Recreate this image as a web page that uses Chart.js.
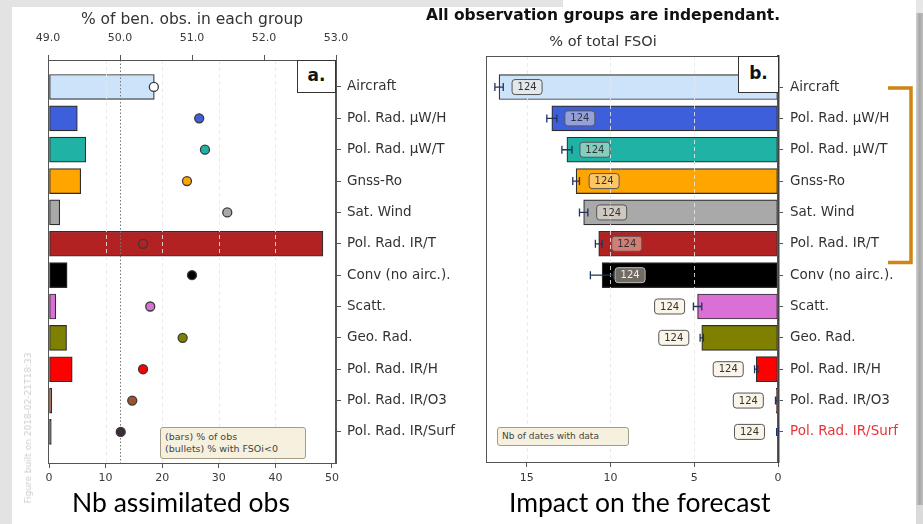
<!DOCTYPE html>
<html>
<head>
<meta charset="utf-8">
<script src="https://cdn.jsdelivr.net/npm/chart.js@4.4.1/dist/chart.umd.min.js"></script>
<style>
  html, body { margin: 0; padding: 0; background: #fff; }
  #page { position: relative; width: 923px; height: 524px; overflow: hidden; background: #fff;
          font-family: "DejaVu Sans", sans-serif; }
  .abs { position: absolute; }
  canvas { position: absolute; top: 0; }
  .title-bold { font-weight: bold; font-size: 15.5px; color: #111; text-align: center; line-height: 18px; white-space: nowrap; }
  .title-sub { font-size: 14.5px; color: #333; text-align: center; line-height: 17px; white-space: nowrap; }
  .caption { font-family: Lato, "Open Sans", sans-serif; font-size: 26.5px; line-height: 26.5px; color: #000; white-space: nowrap; }
  .note { background: #f6f1de; border: 1px solid #a49c84; border-radius: 3px; color: #444; box-sizing: border-box; white-space: nowrap; }
  .tag { background: #fff; border: 1.5px solid #333; box-sizing: border-box; font-weight: bold; font-size: 17px;
         color: #111; text-align: center; }
</style>
</head>
<body>
<div id="page">
  <!-- slide margins -->
  <div class="abs" style="left:0;top:0;width:12px;height:524px;background:#e3e3e3"></div>
  <div class="abs" style="left:0;top:0;width:563px;height:7px;background:#e3e3e3"></div>
  <div class="abs" style="left:916px;top:0;width:7px;height:13px;background:#e6e6e6"></div>
  <div class="abs" style="left:916px;top:13px;width:7px;height:492px;background:linear-gradient(to right,#cfcfcf,#a9a9a9,#bdbdbd)"></div>
  <div class="abs" style="left:916px;top:505px;width:7px;height:19px;background:#dadada"></div>

  <canvas id="obsChart" width="470" height="524" style="left:0;width:470px;height:524px"></canvas>
  <canvas id="fsoiChart" width="453" height="524" style="left:470px;width:453px;height:524px"></canvas>

  <!-- headings and captions -->
  <div class="abs title-bold" style="left:403px;top:6px;width:400px">All observation groups are independant.</div>
  <div class="abs title-sub" style="left:453px;top:33px;width:300px">% of total FSOi</div>
  <div class="abs caption" style="left:72px;top:489px">Nb assimilated obs</div>
  <div class="abs caption" style="left:509px;top:489px">Impact on the forecast</div>

  <!-- panel tags -->
  <div class="abs tag" style="left:297px;top:60px;width:39px;height:33px;line-height:28px">a.</div>
  <div class="abs tag" style="left:738px;top:56px;width:41px;height:37px;line-height:32px">b.</div>

  <!-- in-panel notes -->
  <div class="abs note" style="left:160px;top:427px;width:146px;height:32px;font-size:9.5px;line-height:12px;padding:3px 0 0 4px">(bars) % of obs<br>(bullets) % with FSOi&lt;0</div>
  <div class="abs note" style="left:497px;top:427px;width:132px;height:19px;font-size:9px;line-height:16px;padding-left:4px">Nb of dates with data</div>

  <!-- build stamp -->
  <div class="abs" style="left:28px;top:428px;width:0;height:0">
    <div style="position:absolute;transform:translate(-50%,-50%) rotate(-90deg);white-space:nowrap;font-size:9px;color:#cdcdcd">Figure built on 2018-02-21T18:33</div>
  </div>
</div>

<script>
// ---- data -------------------------------------------------------------
const groups = ['Aircraft', 'Pol. Rad. µW/H', 'Pol. Rad. µW/T', 'Gnss-Ro', 'Sat. Wind',
                'Pol. Rad. IR/T', 'Conv (no airc.).', 'Scatt.', 'Geo. Rad.',
                'Pol. Rad. IR/H', 'Pol. Rad. IR/O3', 'Pol. Rad. IR/Surf'];
// share of assimilated observations (%)
const pctObs = [18.6, 5.0, 6.5, 5.6, 1.9, 48.4, 3.2, 1.2, 3.1, 4.1, 0.5, 0.4];
// share of beneficial observations, i.e. FSOi < 0 (%)
const pctBeneficial = [50.47, 51.10, 51.18, 50.93, 51.49, 50.32, 51.00, 50.42, 50.87, 50.32, 50.17, 50.01];
// share of total FSOi (%) and its spread
const pctFsoi = [16.65, 13.5, 12.6, 12.05, 11.6, 10.7, 10.5, 4.8, 4.55, 1.3, 0.1, 0.03];
const fsoiErr = [0.25, 0.3, 0.3, 0.2, 0.25, 0.2, 0.7, 0.25, 0.1, 0.1, 0.05, 0.05];
// number of dates with data
const nbDates = [124, 124, 124, 124, 124, 124, 124, 124, 124, 124, 124, 124];

const obsTicks = [0, 10, 20, 30, 40, 50];
const beneficialTicks = [49, 50, 51, 52, 53];
const fsoiTicks = [0, 5, 10, 15];

// ---- styles -----------------------------------------------------------
const groupColors = ['#cce3fa', '#3e5fdc', '#21b2a6', '#ffa500', '#a9a9a9', '#b32222',
                     '#000000', '#da70d6', '#808000', '#ff0000', '#a0522d', '#3b2b3b'];
const bulletColors = groupColors.map((c, i) => i === 0 ? '#ffffff' : c);
const edgeColor = '#2e2e2e';
const labelColors = groups.map(g => g === 'Pol. Rad. IR/Surf' ? '#e8333a' : '#333');
const rows = groups.map((_, i) => i);

Chart.defaults.font.family = '"DejaVu Sans", sans-serif';
Chart.defaults.color = '#3a3a3a';
Chart.defaults.animation = false;

const fixedTicks = values => scale => { scale.ticks = values.map(v => ({ value: v })); };
const axisGrid = { drawOnChartArea: false, tickLength: 5, color: '#555', offset: false };

function frame(ctx, a) {
  ctx.save();
  ctx.strokeStyle = '#555';
  ctx.lineWidth = 1;
  ctx.strokeRect(Math.round(a.left) + 0.5, Math.round(a.top) + 0.5,
                 Math.round(a.right - a.left) - 1, Math.round(a.bottom - a.top));
  ctx.restore();
}

function vline(ctx, px, a) {
  const x = Math.round(px) + 0.5;
  ctx.beginPath(); ctx.moveTo(x, a.top); ctx.lineTo(x, a.bottom); ctx.stroke();
}

function roundBox(ctx, x, y, w, h, r) {
  ctx.beginPath();
  ctx.moveTo(x + r, y);
  ctx.lineTo(x + w - r, y); ctx.quadraticCurveTo(x + w, y, x + w, y + r);
  ctx.lineTo(x + w, y + h - r); ctx.quadraticCurveTo(x + w, y + h, x + w - r, y + h);
  ctx.lineTo(x + r, y + h); ctx.quadraticCurveTo(x, y + h, x, y + h - r);
  ctx.lineTo(x, y + r); ctx.quadraticCurveTo(x, y, x + r, y);
  ctx.closePath();
}

function isDark(hex) {
  const n = parseInt(hex.slice(1), 16);
  const r = n >> 16, g = (n >> 8) & 255, b = n & 255;
  return 0.299 * r + 0.587 * g + 0.114 * b < 60;
}

// ---- left panel: share of observations ----------------------------------
const obsOverlay = {
  id: 'obsOverlay',
  afterDatasetDraw(chart, args) {
    if (args.index !== 0) return;
    const { ctx, chartArea: a, scales: { x, x2 } } = chart;
    ctx.save();
    ctx.lineWidth = 1;
    ctx.setLineDash([4, 3]);
    ctx.strokeStyle = 'rgba(232,232,232,0.85)';
    obsTicks.slice(1, -1).forEach(v => vline(ctx, x.getPixelForValue(v), a));
    ctx.setLineDash([1.5, 2]);
    ctx.strokeStyle = '#777';
    vline(ctx, x2.getPixelForValue(50), a);
    ctx.restore();
  },
  afterDraw(chart) { frame(chart.ctx, chart.chartArea); }
};

new Chart(document.getElementById('obsChart'), {
  type: 'bar',
  data: {
    datasets: [
      {
        type: 'bar', indexAxis: 'y', xAxisID: 'x', yAxisID: 'y', order: 2,
        data: pctObs.map((v, i) => ({ x: v, y: i })),
        backgroundColor: groupColors, borderColor: edgeColor, borderWidth: 1.2,
        barThickness: 25, borderSkipped: false
      },
      {
        type: 'scatter', xAxisID: 'x2', yAxisID: 'y', order: 1,
        data: pctBeneficial.map((v, i) => ({ x: v, y: i })),
        pointRadius: 4.5, pointBackgroundColor: bulletColors,
        pointBorderColor: '#3a3a3a', pointBorderWidth: 1.3
      }
    ]
  },
  options: {
    indexAxis: 'y', responsive: false, animation: false,
    layout: { padding: { left: 48, top: 0, right: 0, bottom: 0 } },
    plugins: { legend: { display: false }, tooltip: { enabled: false } },
    scales: {
      x: {
        type: 'linear', position: 'bottom', min: -0.18, max: 50.71, offset: false,
        afterBuildTicks: fixedTicks(obsTicks), afterFit: s => { s.height = 61; },
        grid: axisGrid, border: { color: '#555' },
        ticks: { padding: 4, font: { size: 11 } }
      },
      x2: {
        type: 'linear', position: 'top', min: 49, max: 53, offset: false,
        afterBuildTicks: fixedTicks(beneficialTicks), afterFit: s => { s.height = 60; },
        grid: axisGrid, border: { color: '#555' },
        ticks: { padding: 10, font: { size: 11 }, callback: v => v.toFixed(1) },
        title: { display: true, text: '% of ben. obs. in each group', font: { size: 15.5 },
                 color: '#333', padding: { top: 11, bottom: 0 } }
      },
      y: {
        type: 'linear', position: 'right', reverse: true, min: -0.86, max: 11.99, offset: false,
        afterBuildTicks: fixedTicks(rows), afterFit: s => { s.width = 134; },
        grid: axisGrid, border: { color: '#555' },
        ticks: { autoSkip: false, padding: 6, font: { size: 13.5 }, color: '#333',
                 callback: v => groups[v] }
      }
    }
  },
  plugins: [obsOverlay]
});

// ---- right panel: share of total FSOi -----------------------------------
const fsoiOverlay = {
  id: 'fsoiOverlay',
  afterDatasetsDraw(chart) {
    const { ctx, chartArea: a, scales: { x, y } } = chart;
    ctx.save();
    // grid lines over the bars
    ctx.lineWidth = 1;
    ctx.setLineDash([4, 3]);
    ctx.strokeStyle = 'rgba(232,232,232,0.85)';
    fsoiTicks.slice(1).forEach(v => vline(ctx, x.getPixelForValue(v), a));
    ctx.setLineDash([]);

    // error bars at the end of each bar
    ctx.strokeStyle = '#22335a';
    ctx.lineWidth = 1.3;
    pctFsoi.forEach((v, i) => {
      const py = y.getPixelForValue(i);
      const x0 = x.getPixelForValue(v - fsoiErr[i]);
      const x1 = x.getPixelForValue(v + fsoiErr[i]);
      ctx.beginPath();
      ctx.moveTo(x0, py); ctx.lineTo(x1, py);
      ctx.moveTo(x0, py - 4); ctx.lineTo(x0, py + 4);
      ctx.moveTo(x1, py - 4); ctx.lineTo(x1, py + 4);
      ctx.stroke();
    });

    // number of dates, inside long bars, outside short ones
    ctx.font = '10px "DejaVu Sans"';
    ctx.textAlign = 'center';
    ctx.textBaseline = 'middle';
    pctFsoi.forEach((v, i) => {
      const inside = v > 6;
      const cx = x.getPixelForValue(v) + (inside ? 28 : -28);
      const cy = y.getPixelForValue(i);
      roundBox(ctx, cx - 15, cy - 7.5, 30, 15, 3);
      ctx.fillStyle = inside ? 'rgba(250,240,220,0.45)' : '#faf5e8';
      ctx.fill();
      ctx.lineWidth = 1;
      ctx.strokeStyle = inside && isDark(groupColors[i]) ? '#bbb' : '#555';
      ctx.stroke();
      ctx.fillStyle = inside && isDark(groupColors[i]) ? '#eee' : '#333';
      ctx.fillText(String(nbDates[i]), cx, cy + 0.5);
    });
    ctx.restore();
  },
  afterDraw(chart) {
    const { ctx, chartArea: a, scales: { y } } = chart;
    frame(ctx, a);
    // bracket grouping the satellite radiance / GNSS / wind rows
    ctx.save();
    ctx.strokeStyle = '#cf8414';
    ctx.lineWidth = 3.5;
    ctx.lineJoin = 'miter';
    const top = y.getPixelForValue(0) + 1;
    const bottom = y.getPixelForValue(5.6);
    ctx.beginPath();
    ctx.moveTo(418, top); ctx.lineTo(441, top);
    ctx.lineTo(441, bottom); ctx.lineTo(418, bottom);
    ctx.stroke();
    ctx.restore();
  }
};

new Chart(document.getElementById('fsoiChart'), {
  type: 'bar',
  data: {
    datasets: [{
      type: 'bar', indexAxis: 'y', xAxisID: 'x', yAxisID: 'y',
      data: pctFsoi.map((v, i) => ({ x: v, y: i })),
      backgroundColor: groupColors, borderColor: edgeColor, borderWidth: 1.2,
      barThickness: 25, borderSkipped: false
    }]
  },
  options: {
    indexAxis: 'y', responsive: false, animation: false,
    layout: { padding: { left: 16, top: 56, right: 0, bottom: 0 } },
    plugins: { legend: { display: false }, tooltip: { enabled: false } },
    scales: {
      x: {
        type: 'linear', position: 'bottom', reverse: true, min: 0, max: 17.43, offset: false,
        afterBuildTicks: fixedTicks(fsoiTicks), afterFit: s => { s.height = 62; },
        grid: axisGrid, border: { color: '#555' },
        ticks: { padding: 5, font: { size: 11 } }
      },
      y: {
        type: 'linear', position: 'right', reverse: true, min: -0.99, max: 11.96, offset: false,
        afterBuildTicks: fixedTicks(rows), afterFit: s => { s.width = 145; },
        grid: axisGrid, border: { color: '#444', width: 2.5 },
        ticks: { autoSkip: false, padding: 7, font: { size: 13.5 },
                 color: ctx => labelColors[ctx.index], callback: v => groups[v] }
      }
    }
  },
  plugins: [fsoiOverlay]
});
</script>
</body>
</html>
